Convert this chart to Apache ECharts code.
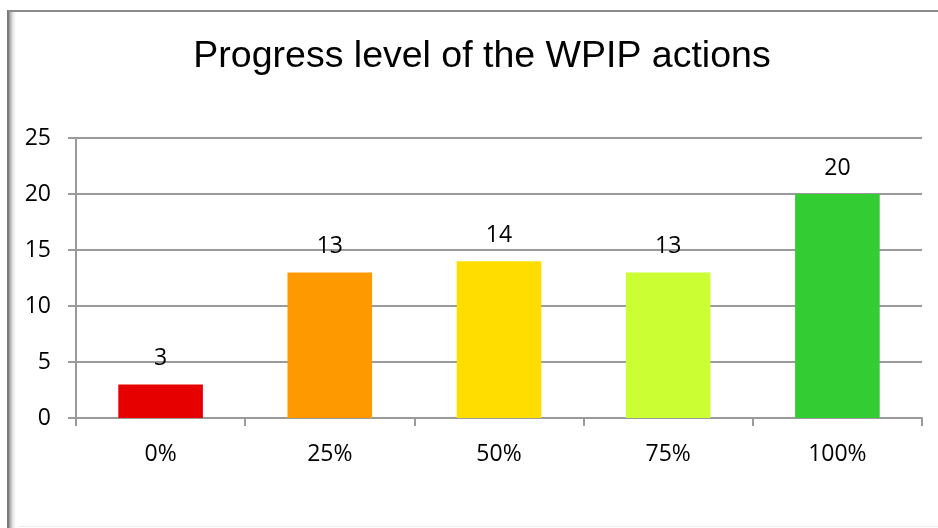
<!DOCTYPE html>
<html>
<head>
<meta charset="utf-8">
<script src="https://cdn.jsdelivr.net/npm/echarts@6/dist/echarts.min.js"></script>
<style>
  html, body { margin: 0; padding: 0; background: #fff; }
  #chart { width: 938px; height: 528px; }
</style>
</head>
<body>
<div id="chart"></div>
<script>
const categories = ['0%', '25%', '50%', '75%', '100%'];
const actionCounts = [3, 13, 14, 13, 20];
const yTicks = [0, 5, 10, 15, 20, 25];

const barColors = ['#e60000', '#ff9900', '#ffdd00', '#ccff33', '#33cc33'];
const gridGrey = '#9a9a9a';
const labelFont = '"Open Sans", Lato, sans-serif';

const chart = echarts.init(document.getElementById('chart'), null, { renderer: 'canvas' });

const option = {
  backgroundColor: '#fff',
  animation: false,
  title: {
    text: 'Progress level of the WPIP actions',
    left: 477,
    textAlign: 'center',
    top: 33,
    textStyle: {
      fontFamily: '"Liberation Sans", Arial, sans-serif',
      fontSize: 37.5,
      fontWeight: 'normal',
      color: '#000'
    }
  },
  grid: {
    left: 76,
    right: 16,
    top: 138,
    bottom: 110
  },
  xAxis: {
    type: 'category',
    data: categories,
    axisLine: { lineStyle: { color: gridGrey, width: 2 } },
    axisTick: { show: true, length: 8, lineStyle: { color: gridGrey, width: 2 } },
    axisLabel: {
      margin: 25,
      fontFamily: labelFont,
      fontSize: 23,
      color: '#000'
    }
  },
  yAxis: {
    type: 'value',
    min: yTicks[0],
    max: yTicks[yTicks.length - 1],
    interval: yTicks[1] - yTicks[0],
    axisLine: { show: true, lineStyle: { color: gridGrey, width: 2 } },
    axisTick: { show: true, length: 8, lineStyle: { color: gridGrey, width: 2 } },
    splitLine: { lineStyle: { color: gridGrey, width: 2 } },
    axisLabel: {
      margin: 25,
      fontFamily: labelFont,
      fontSize: 23,
      color: '#000'
    }
  },
  series: [{
    type: 'bar',
    barWidth: '50%',
    data: actionCounts.map((v, i) => ({ value: v, itemStyle: { color: barColors[i] } })),
    label: {
      show: true,
      position: 'top',
      distance: 14,
      fontFamily: labelFont,
      fontSize: 23,
      color: '#000'
    }
  }],
  graphic: [
    // outer frame: shadowed left edge, top and bottom rules
    {
      type: 'rect',
      shape: { x: 9, y: 11, width: 8, height: 517 },
      style: {
        fill: new echarts.graphic.LinearGradient(0, 0, 1, 0, [
          { offset: 0, color: 'rgba(120,120,120,0.8)' },
          { offset: 1, color: 'rgba(255,255,255,0)' }
        ])
      },
      silent: true
    },
    {
      type: 'line',
      shape: { x1: 8, y1: 10, x2: 8, y2: 528 },
      style: { stroke: '#7a7a7a', lineWidth: 2 },
      silent: true
    },
    {
      type: 'line',
      shape: { x1: 8, y1: 11, x2: 938, y2: 11 },
      style: { stroke: '#8a8a8a', lineWidth: 2 },
      silent: true
    },
    {
      type: 'line',
      shape: { x1: 18, y1: 526.5, x2: 938, y2: 526.5 },
      style: { stroke: '#ececec', lineWidth: 1 },
      silent: true
    }
  ]
};

chart.setOption(option);
</script>
</body>
</html>
